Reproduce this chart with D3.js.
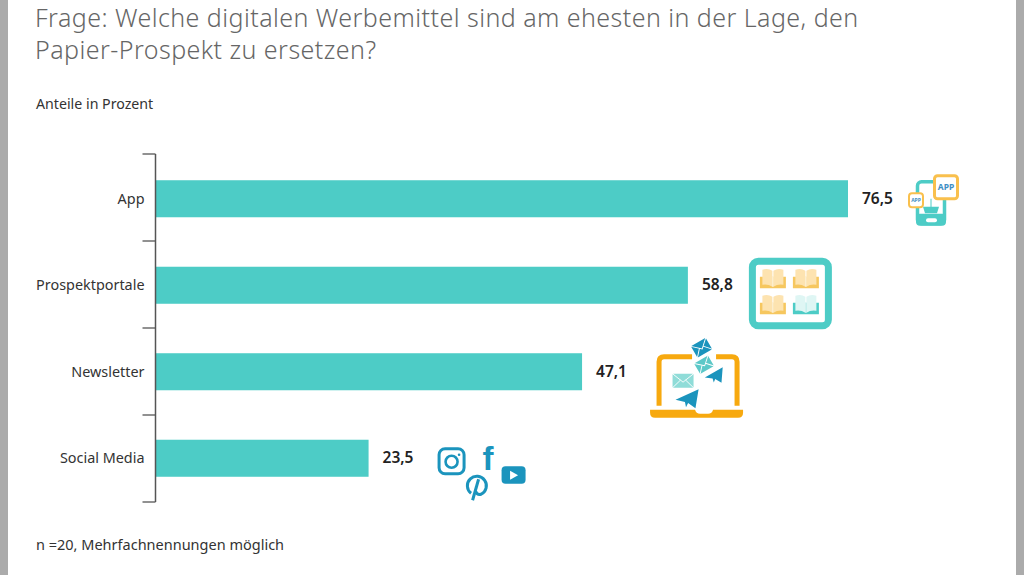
<!DOCTYPE html>
<html>
<head>
<meta charset="utf-8">
<script src="https://cdn.jsdelivr.net/npm/d3@7"></script>
<style>
    body { margin: 0; background: #fff; }
    text { font-family: "Noto Sans", sans-serif; }
</style>
</head>
<body>
<svg id="chart" width="1024" height="575"></svg>
<script>
const categories = ["App", "Prospektportale", "Newsletter", "Social Media"];
const values = [76.5, 58.8, 47.1, 23.5];
const titleLines = [
    "Frage: Welche digitalen Werbemittel sind am ehesten in der Lage, den",
    "Papier-Prospekt zu ersetzen?"
];
const subtitle = "Anteile in Prozent";
const footnote = "n =20, Mehrfachnennungen möglich";

const TEAL = "#4dccc6";
const ORANGE = "#f7a90f";
const BLUE = "#1b94bd";

const svg = d3.select("#chart");

const attr_area = { left: 156, top: 154, bottom: 502 };

const scaleX = d3.scaleLinear().domain([0, 76.5]).range([attr_area.left, 848]);
const scaleY = d3.scaleBand()
    .domain(categories)
    .range([155.5, 501.5])
    .paddingInner(0.572)
    .paddingOuter(0.286);
// the tick marks are spaced a little wider than the bars
const scaleTicks = d3.scalePoint()
    .domain(d3.range(categories.length + 1))
    .range([attr_area.top, attr_area.bottom]);

// grey side strips of the slide
svg.append("rect").attr("width", 8).attr("height", 575).attr("fill", "#ababab");
svg.append("rect").attr("x", 1016).attr("width", 8).attr("height", 575).attr("fill", "#ababab");

svg.selectAll(".title")
    .data(titleLines)
    .enter()
    .append("text")
    .attr("class", "title")
    .attr("x", 35)
    .attr("y", (d, i) => 27 + i * 32)
    .attr("font-size", 25)
    .attr("font-weight", 300)
    .attr("letter-spacing", 0.45)
    .attr("fill", "#666")
    .text(d => d);

svg.append("text").attr("x", 36).attr("y", 109)
    .attr("font-size", 14.2).attr("fill", "#333").text(subtitle);
svg.append("text").attr("x", 36).attr("y", 550)
    .attr("font-size", 14.5).attr("fill", "#333").text(footnote);

// bars
svg.selectAll(".bar")
    .data(values)
    .enter()
    .append("rect")
    .attr("class", "bar")
    .attr("x", scaleX(0))
    .attr("y", (d, i) => scaleY(categories[i]))
    .attr("width", d => scaleX(d) - scaleX(0))
    .attr("height", scaleY.bandwidth())
    .attr("fill", TEAL);

// axis: labels from d3, ticks sit on the band edges
const axisY = d3.axisLeft(scaleY).tickSize(0).tickPadding(11);
const gAxis = svg.append("g")
    .attr("transform", `translate(${attr_area.left - 0.5}, 0.5)`)
    .call(axisY);
gAxis.select(".domain").remove();
gAxis.selectAll("text")
    .attr("font-size", 14.4)
    .attr("fill", "#333")
    .style("font-family", '"Noto Sans", sans-serif');

gAxis.append("line")
    .attr("y1", attr_area.top - 0.5)
    .attr("y2", attr_area.bottom - 0.5)
    .attr("stroke", "#555")
    .attr("stroke-width", 1.5);
gAxis.selectAll(".edge")
    .data(scaleTicks.domain())
    .enter()
    .append("line")
    .attr("class", "edge")
    .attr("x1", -13)
    .attr("x2", 0)
    .attr("y1", d => scaleTicks(d) - 0.5)
    .attr("y2", d => scaleTicks(d) - 0.5)
    .attr("stroke", "#555")
    .attr("stroke-width", 1.3);

// value labels
svg.selectAll(".value")
    .data(values)
    .enter()
    .append("text")
    .attr("class", "value")
    .attr("x", d => scaleX(d) + 14)
    .attr("y", (d, i) => scaleY(categories[i]) + scaleY.bandwidth() / 2 + 5)
    .attr("font-size", 15.5)
    .attr("font-weight", 600)
    .attr("fill", "#222")
    .text(d => d.toFixed(1).replace(".", ","));

function iconGroup(i) {
    const cat = categories[i];
    return svg.append("g")
        .attr("transform", `translate(${scaleX(values[i])}, ${scaleY(cat) + scaleY.bandwidth() / 2})`);
}

function appBox(g, x, y, size, sw, fs) {
    g.append("rect").attr("x", x).attr("y", y).attr("width", size).attr("height", size)
        .attr("rx", 3).attr("fill", "#fff").attr("stroke", "#f9c04d").attr("stroke-width", sw);
    g.append("text").attr("x", x + size / 2).attr("y", y + size / 2 + fs * 0.36)
        .attr("text-anchor", "middle").attr("font-size", fs).attr("font-weight", 700)
        .attr("fill", "#3f8fc4").text("APP");
}

function drawAppIcon(g) {
    g.append("rect").attr("x", 69.5).attr("y", -17).attr("width", 27).attr("height", 42)
        .attr("rx", 4).attr("fill", "none").attr("stroke", TEAL).attr("stroke-width", 3.5);
    g.append("rect").attr("x", 68).attr("y", 15).attr("width", 30).attr("height", 12)
        .attr("rx", 4).attr("fill", TEAL);
    g.append("rect").attr("x", 78).attr("y", 19.5).attr("width", 11).attr("height", 4)
        .attr("rx", 2).attr("fill", "#fff");
    g.append("line").attr("x1", 83).attr("x2", 83).attr("y1", 0).attr("y2", 9)
        .attr("stroke", TEAL).attr("stroke-width", 1);
    g.append("path").attr("d", "M75 8H91L89 14.5H77Z").attr("fill", TEAL);
    appBox(g, 86.5, -23, 23, 3, 8.5);
    appBox(g, 61, -5.5, 14, 2, 5);
}

function drawBook(g, x, y, cover, page) {
    g.append("path").attr("d", `M${x} ${y + 8}H${x + 26}V${y + 19.5}H${x}Z`).attr("fill", cover);
    g.append("path").attr("d", `M${x + 2.5} ${y + 1}Q${x + 8} ${y - 1} ${x + 12.5} ${y + 2}V${y + 18}Q${x + 8} ${y + 15} ${x + 2.5} ${y + 16}Z`)
        .attr("fill", page);
    g.append("path").attr("d", `M${x + 23.5} ${y + 1}Q${x + 18} ${y - 1} ${x + 13.5} ${y + 2}V${y + 18}Q${x + 18} ${y + 15} ${x + 23.5} ${y + 16}Z`)
        .attr("fill", page);
    g.append("line").attr("x1", x + 13).attr("x2", x + 13).attr("y1", y + 8).attr("y2", y + 18)
        .attr("stroke", "#fff").attr("stroke-width", 1);
}

function drawPortalIcon(g) {
    g.append("rect").attr("x", 64.5).attr("y", -24).attr("width", 76).attr("height", 64.5)
        .attr("rx", 6).attr("fill", "#fff").attr("stroke", TEAL).attr("stroke-width", 7);
    drawBook(g, 72, -16.5, "#f6c75f", "#fde3b0");
    drawBook(g, 105, -16.5, "#f6c75f", "#fde3b0");
    drawBook(g, 72, 9.5, "#f6c75f", "#fde3b0");
    drawBook(g, 105, 9.5, TEAL, "#dff6f4");
}

function drawEnvelope(g, cx, cy, w, h, angle, fill) {
    const e = g.append("g").attr("transform", `translate(${cx}, ${cy}) rotate(${angle})`);
    e.append("rect").attr("x", -w / 2).attr("y", -h / 2).attr("width", w).attr("height", h)
        .attr("rx", 1).attr("fill", fill);
    e.append("path")
        .attr("d", `M${-w / 2} ${-h / 2}L0 ${h * 0.1}L${w / 2} ${-h / 2}M${-w / 2} ${h / 2}L${-w * 0.12} ${-h * 0.05}M${w / 2} ${h / 2}L${w * 0.12} ${-h * 0.05}`)
        .attr("fill", "none").attr("stroke", "#fff").attr("stroke-width", 0.9);
}

function drawPlane(g, cx, cy, scale, angle) {
    g.append("path")
        .attr("transform", `translate(${cx}, ${cy}) rotate(${angle}) scale(${scale})`)
        .attr("d", "M-11 1L11 -9L8 9L1 4L-1 8L-2 3Z")
        .attr("fill", BLUE);
}

function drawLaptopIcon(g) {
    g.append("path")
        .attr("d", "M77 34V-10Q77 -15 82 -15H110M134 -15H150Q155 -15 155 -10V34")
        .attr("fill", "none").attr("stroke", ORANGE).attr("stroke-width", 5);
    g.append("path")
        .attr("d", "M68 38H113Q114 42 118 42H126Q130 42 131 38H161V41Q161 46 156 46H73Q68 46 68 41Z")
        .attr("fill", ORANGE);
    drawEnvelope(g, 119.5, -24, 17, 13, -30, BLUE);
    drawEnvelope(g, 122, -7, 16, 12, -30, "#5cc8c8");
    drawEnvelope(g, 101, 9, 21, 14, 0, "#8fdcd8");
    drawPlane(g, 132, 4, 0.85, -5);
    drawPlane(g, 105, 27, 1.05, 0);
}

function drawSocialIcon(g) {
    g.append("rect").attr("x", 70.5).attr("y", -9.5).attr("width", 25).attr("height", 25)
        .attr("rx", 6).attr("fill", "none").attr("stroke", BLUE).attr("stroke-width", 3);
    g.append("circle").attr("cx", 83).attr("cy", 3.5).attr("r", 6)
        .attr("fill", "none").attr("stroke", BLUE).attr("stroke-width", 2.6);
    g.append("circle").attr("cx", 90.5).attr("cy", -3.5).attr("r", 1.3).attr("fill", BLUE);
    g.append("text").attr("x", 119.5).attr("y", 12).attr("text-anchor", "middle")
        .attr("font-size", 33).attr("font-weight", 700).attr("fill", BLUE)
        .style("font-family", '"Liberation Sans", sans-serif').text("f");
    g.append("path")
        .attr("d", "M102.5 35A9.5 9.5 0 1 1 112.5 36Q108.5 37 107 33")
        .attr("fill", "none").attr("stroke", BLUE).attr("stroke-width", 3);
    g.append("path").attr("d", "M110 21L104 42").attr("fill", "none").attr("stroke", BLUE).attr("stroke-width", 3);
    g.append("rect").attr("x", 133).attr("y", 8).attr("width", 24).attr("height", 17.5)
        .attr("rx", 4).attr("fill", BLUE);
    g.append("path").attr("d", "M141.5 12.5L149.5 17L141.5 21.5Z").attr("fill", "#fff");
}

drawAppIcon(iconGroup(0));
drawPortalIcon(iconGroup(1));
drawLaptopIcon(iconGroup(2));
drawSocialIcon(iconGroup(3));
</script>
</body>
</html>
